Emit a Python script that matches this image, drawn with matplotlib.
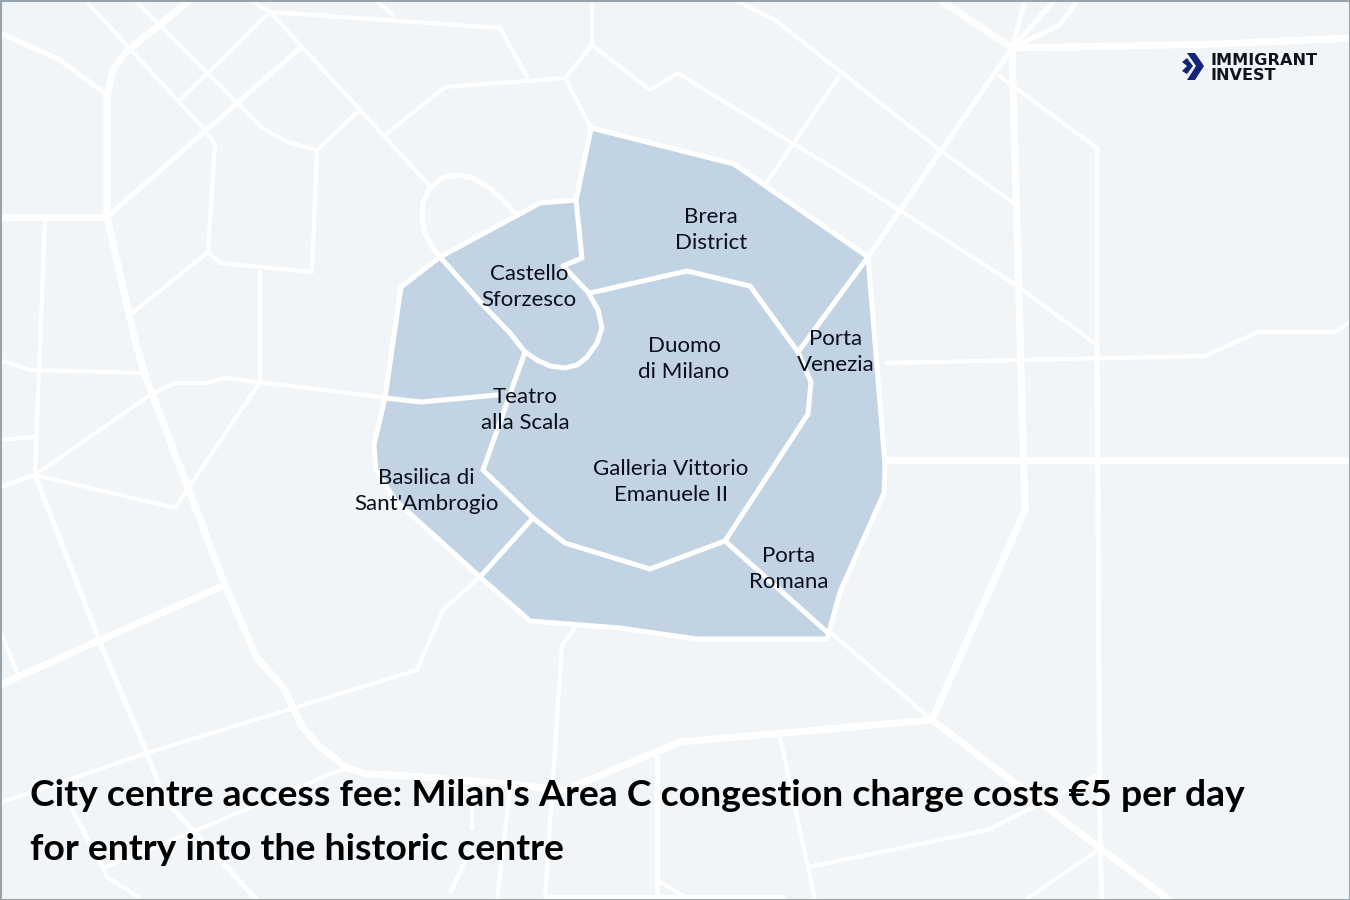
import matplotlib
matplotlib.use('Agg')
import matplotlib.pyplot as plt
from matplotlib.patches import Polygon, Rectangle

# everything in picture coordinates (y goes down)
thick_roads = [
    [(0, 217), (107, 217)],
    [(107, 217), (135, 340), (145, 375), (225, 585), (257, 658), (283, 687), (303, 728), (320, 747), (347, 768), (367, 774), (393, 775), (500, 783), (565, 790), (680, 742), (932, 720)],
    [(0, 685), (100, 640), (225, 585)],
    [(1012, 48), (1220, 44), (1350, 38)],
    [(1012, 48), (1025, 510), (932, 720)],
    [(885, 460), (1350, 460)],
    [(932, 720), (1100, 848), (1170, 900)],
    [(940, 0), (1012, 48)],
    [(107, 217), (107, 95), (113, 70), (125, 53), (190, 0)],
]

medium_roads = [
    [(0, 33), (60, 60), (107, 95)],
    [(107, 217), (300, 48)],
    [(1012, 48), (868, 257)],
    [(0, 487), (35, 475), (103, 650), (147, 753), (165, 800), (257, 900)],
    [(1012, 48), (1060, 25), (1078, 0)],
    [(1012, 48), (1025, 0)],
    [(1012, 48), (1055, 0)],
    [(657, 755), (657, 900)],
    [(1097, 345), (1100, 848), (1102, 900)],
]

thin_roads = [
    [(85, 0), (205, 130)],
    [(135, 0), (262, 128), (287, 142), (317, 150), (312, 272), (220, 263), (208, 252), (215, 145), (205, 130)],
    [(180, 100), (270, 12), (500, 28), (528, 78)],
    [(250, 0), (270, 12), (430, 186)],
    [(375, 0), (395, 17)],
    [(360, 110), (317, 150)],
    [(385, 135), (445, 87), (565, 78), (592, 45), (592, 0)],
    [(565, 78), (591, 128)],
    [(592, 45), (650, 90), (678, 73), (705, 90), (840, 172), (1016, 285), (1097, 345), (1097, 148), (998, 75)],
    [(130, 315), (208, 252)],
    [(0, 360), (30, 370), (145, 373)],
    [(260, 270), (260, 382)],
    [(225, 378), (421, 402)],
    [(260, 382), (175, 508), (35, 475), (150, 395), (175, 383), (207, 383), (225, 378)],
    [(45, 217), (35, 475)],
    [(0, 440), (35, 437)],
    [(0, 803), (147, 753), (287, 710), (417, 670), (443, 610), (480, 577)],
    [(0, 630), (20, 680)],
    [(885, 363), (1205, 356), (1258, 332), (1335, 332), (1350, 322)],
    [(765, 185), (840, 75)],
    [(735, 0), (775, 20), (940, 150), (1016, 205)],
    [(940, 150), (868, 257)],
    [(830, 632), (932, 720)],
    [(575, 628), (562, 645), (545, 900)],
    [(1098, 850), (1025, 900)],
    [(808, 867), (988, 830), (1097, 775)],
    [(780, 737), (815, 900)],
    [(657, 880), (690, 900)],
    [(347, 768), (333, 773), (197, 830), (103, 868), (107, 877), (140, 898)],
    [(67, 800), (103, 868)],
    [(472, 785), (472, 830)],
    [(510, 790), (497, 900)],
    [(467, 857), (450, 893)],
    [(545, 897), (785, 897)],
]

zone_outline = [
    (591, 128), (734, 164), (868, 257), (885, 465), (884, 493), (840, 592), (827, 639),
    (697, 639), (620, 628), (530, 621), (480, 577), (395, 500), (376, 470), (374, 445),
    (385, 398), (401, 287), (440, 257), (540, 203), (576, 200),
]

zone_lines = [
    [(591, 128), (576, 200), (582, 258), (563, 266), (588, 292), (598, 310), (602, 328), (597, 343), (587, 357), (577, 365),
     (565, 368), (550, 366), (537, 360), (525, 352), (510, 333), (483, 305), (440, 257)],
    [(590, 293), (687, 271), (750, 286), (798, 352), (811, 382), (808, 414), (725, 541), (650, 569), (565, 543), (533, 518), (483, 470), (525, 352)],
    [(868, 257), (798, 352)],
    [(725, 541), (827, 632)],
    [(533, 518), (480, 577)],
    [(385, 398), (421, 402), (497, 395)],
]

castle_loop = [(517, 215), (503, 200), (490, 188), (473, 178), (457, 175), (442, 178), (430, 188), (423, 203), (422, 218), (425, 233), (432, 247), (440, 257)]

district_labels = ['Brera\nDistrict', 'Castello\nSforzesco', 'Duomo\ndi Milano', 'Porta\nVenezia', 'Teatro\nalla Scala',
                   'Galleria Vittorio\nEmanuele II', 'Basilica di\nSant\'Ambrogio', 'Porta\nRomana']
label_x = [711, 529, 684, 836, 525, 671, 426, 789]
label_y = [230, 287, 359, 352, 410, 482, 491, 569]

title_lines = ["City centre access fee: Milan's Area C congestion charge costs €5 per day",
               "for entry into the historic centre"]

bg_color = '#f1f5f8'
zone_color = '#c2d3e3'
text_color = '#0b0f1a'
logo_color = '#12237a'

fig = plt.figure(figsize=(13.5, 9), dpi=100, facecolor=bg_color)
ax = fig.add_axes([0, 0, 1, 1])
ax.set_xlim(0, 1350)
ax.set_ylim(900, 0)
ax.axis('off')


def draw_line(points, width):
    xs = [p[0] for p in points]
    ys = [p[1] for p in points]
    ax.plot(xs, ys, color='white', lw=width * 0.72, solid_joinstyle='round', solid_capstyle='butt')


for road in thin_roads:
    draw_line(road, 4)
for road in medium_roads:
    draw_line(road, 5)
for road in thick_roads:
    draw_line(road, 7)

ax.add_patch(Polygon(zone_outline, closed=True, facecolor=zone_color, edgecolor='white', lw=3.6, joinstyle='round', zorder=3))
for line in zone_lines:
    ax.plot([p[0] for p in line], [p[1] for p in line], color='white', lw=3.6, solid_joinstyle='round', zorder=4)
ax.plot([p[0] for p in castle_loop], [p[1] for p in castle_loop], color='white', lw=3.6, zorder=4)

for label, x, y in zip(district_labels, label_x, label_y):
    ax.text(x, y, label, ha='center', va='center', fontsize=16, family='Lato', color=text_color, linespacing=1.36, zorder=5)

# title
ax.text(30, 796, title_lines[0], ha='left', va='center', fontsize=26.9, family='Lato', fontweight='bold', color='black', zorder=6)
ax.text(30, 850, title_lines[1], ha='left', va='center', fontsize=26.9, family='Lato', fontweight='bold', color='black', zorder=6)

# logo
chevron_a = [(1182, 62), (1187, 58), (1193, 66), (1187, 74), (1182, 71), (1187, 66)]
chevron_b = [(1187, 53), (1195, 53), (1204, 66), (1195, 80), (1187, 80), (1196, 66)]
ax.add_patch(Polygon(chevron_a, closed=True, facecolor=logo_color, edgecolor='none', zorder=6))
ax.add_patch(Polygon(chevron_b, closed=True, facecolor=logo_color, edgecolor='none', zorder=6))
ax.text(1211, 65, 'IMMIGRANT', ha='left', va='baseline', fontsize=11.6, family='DejaVu Sans', fontweight='bold', color='#10141f', zorder=6)
ax.text(1211, 79.5, 'INVEST', ha='left', va='baseline', fontsize=11.6, family='DejaVu Sans', fontweight='bold', color='#10141f', zorder=6)

# thin frame round the picture
ax.add_patch(Rectangle((0.5, 0.5), 1349, 899, fill=False, edgecolor='#98a3ab', lw=1.5, zorder=7))

fig.savefig('out.png', dpi=100, facecolor=bg_color)
